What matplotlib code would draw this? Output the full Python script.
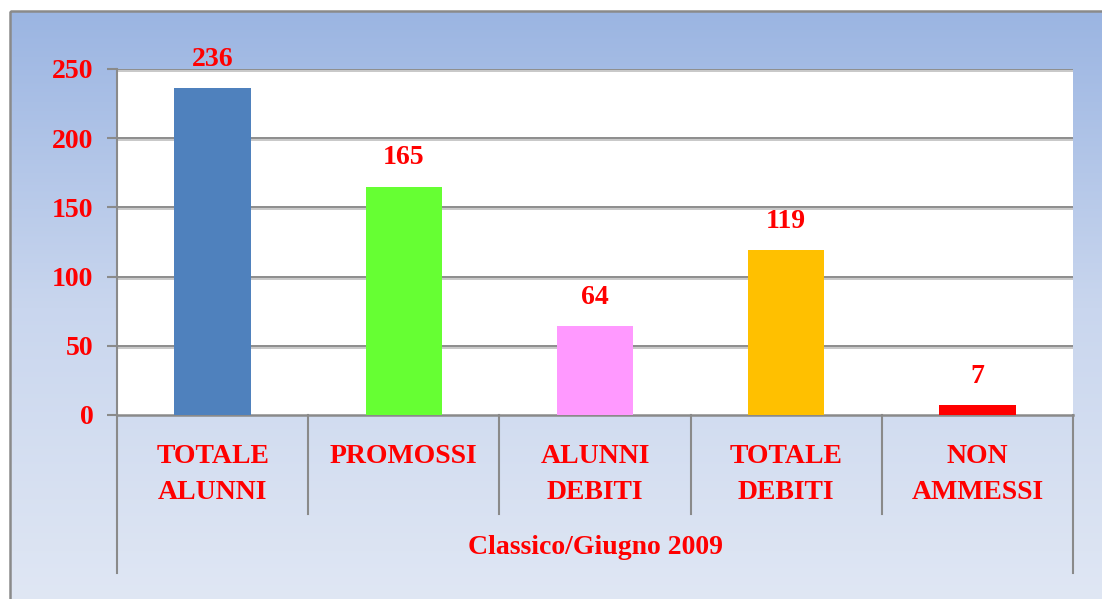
import numpy as np
import matplotlib
matplotlib.use("Agg")
import matplotlib.pyplot as plt
import matplotlib.patheffects as pe
from matplotlib.colors import LinearSegmentedColormap
from matplotlib.patches import Rectangle

# data
categories = ["TOTALE\nALUNNI", "PROMOSSI", "ALUNNI\nDEBITI", "TOTALE\nDEBITI", "NON\nAMMESSI"]
values = [236, 165, 64, 119, 7]
bar_colors = ["#4F81BD", "#66FF33", "#FF99FF", "#FFC000", "#FF0000"]
group_label = "Classico/Giugno 2009"
yticks = [0, 50, 100, 150, 200, 250]

W, H = 1102, 599
RED = "#FF0000"
FONT = "Liberation Serif"
FS = 20

plt.rcParams['font.family'] = [FONT, 'DejaVu Serif']
plt.rcParams['font.weight'] = 'bold'

fig = plt.figure(figsize=(W / 100, H / 100), dpi=100)
fig.patch.set_facecolor("white")

# gradient background of the chart area
bg = fig.add_axes([0, 0, 1, 1], zorder=0)
bg.set_axis_off()
cmap = LinearSegmentedColormap.from_list("bg", ["#9BB5E2", "#C9D6EE", "#E0E7F4"])
grad = np.linspace(0, 1, 256).reshape(-1, 1)
bg.imshow(grad, aspect="auto", cmap=cmap, extent=[10, W + 5, H + 5, 11])
bg.set_xlim(0, W)
bg.set_ylim(H, 0)
bg.add_patch(Rectangle((10, 11), W, H, fill=False, edgecolor="#8A8A8A", linewidth=1.8))

# plot area
left, right, top, bottom = 117, 1073, 69, 415
ax = fig.add_axes([left / W, 1 - bottom / H, (right - left) / W, (bottom - top) / H], zorder=1)
ax.set_facecolor("white")

x = np.arange(len(categories))
ax.bar(x, values, width=0.40, color=bar_colors, zorder=3)

ax.set_xlim(-0.5, len(categories) - 0.5)
ax.set_ylim(0, 250)
ax.set_yticks(yticks)
ax.set_yticklabels([str(t) for t in yticks], color=RED, fontsize=FS, fontweight='bold')
ax.tick_params(axis='y', length=7, width=1.5, color="#8A8A8A", pad=10)

ax.set_xticks(x)
ax.set_xticklabels(categories, color=RED, fontsize=FS, fontweight='bold', linespacing=1.55, va='top')
ax.tick_params(axis='x', length=0, pad=21)

# gridlines with soft shadow
for t in yticks[1:]:
    ax.axhline(t, color="#8C8C8C", linewidth=1.4, zorder=1,
               path_effects=[pe.SimpleLineShadow(offset=(0, -1.5), shadow_color="#C8C8C8", alpha=1), pe.Normal()])

for s in ["top", "right"]:
    ax.spines[s].set_visible(False)
ax.spines["left"].set_color("#8A8A8A")
ax.spines["left"].set_linewidth(1.5)
ax.spines["bottom"].set_color("#8A8A8A")
ax.spines["bottom"].set_linewidth(1.8)

# category dividers below the axis
tr = ax.get_xaxis_transform()
n = len(categories)
for i in range(n + 1):
    xb = i - 0.5
    ylow = -0.457 if i in (0, n) else -0.286
    ax.plot([xb, xb], [0, ylow], transform=tr, color="#8A8A8A", linewidth=1.5, clip_on=False)

# value labels
for xi, v in zip(x, values):
    ax.annotate(str(v), (xi, v), xytext=(0, 21), textcoords="offset points",
                ha="center", va="center", color=RED, fontsize=FS, fontweight='bold',
                annotation_clip=False)

ax.text((n - 1) / 2, -0.382, group_label, transform=tr, ha="center", va="center",
        color=RED, fontsize=FS, fontweight='bold')

fig.savefig("out.png", dpi=100)
